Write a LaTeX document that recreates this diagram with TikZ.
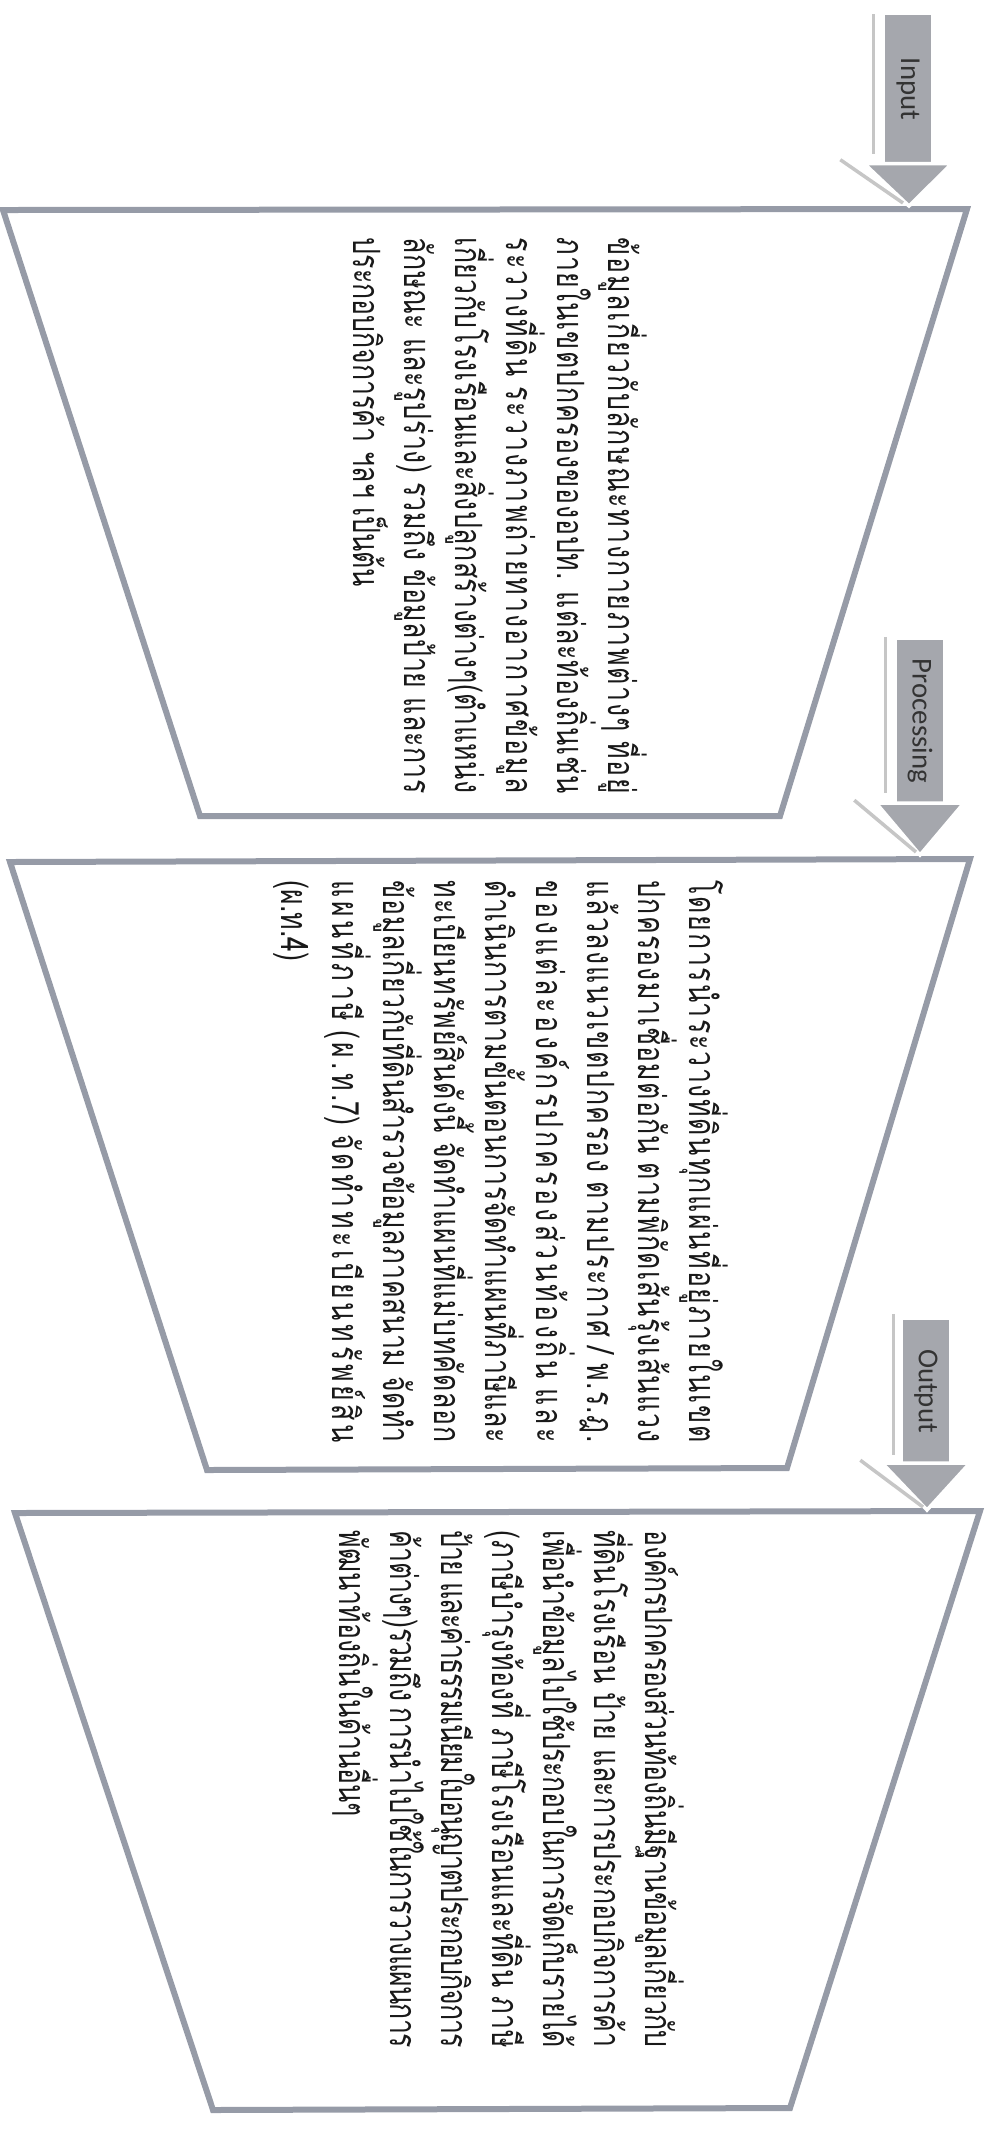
\documentclass[tikz,border=0pt]{standalone}
\usepackage{fontspec}
\setmainfont{Carlito}
\newfontfamily\thaifont[Script=Thai,FakeStretch=0.71]{Loma}
\usetikzlibrary{calc}
\definecolor{edgegray}{RGB}{150,155,167}
\definecolor{arrowgray}{RGB}{165,167,173}

% Thai letters may spread a little, so that full lines end flush
\XeTeXinterchartokenstate=1
\newXeTeXintercharclass\thaibase
\newXeTeXintercharclass\thaimark
\newcount\thaichar
\thaichar="0E01
\loop
  \XeTeXcharclass\thaichar=\thaibase
  \advance\thaichar by 1
\ifnum\thaichar<"0E5C \repeat
\XeTeXcharclass"0E31=\thaimark
\XeTeXcharclass"0E33=\thaimark
\thaichar="0E34
\loop
  \XeTeXcharclass\thaichar=\thaimark
  \advance\thaichar by 1
\ifnum\thaichar<"0E3B \repeat
\thaichar="0E47
\loop
  \XeTeXcharclass\thaichar=\thaimark
  \advance\thaichar by 1
\ifnum\thaichar<"0E4F \repeat
\XeTeXinterchartoks\thaibase\thaibase={\hskip 0pt plus 1fil minus 0.3pt\relax}
\XeTeXinterchartoks\thaimark\thaibase={\hskip 0pt plus 1fil minus 0.3pt\relax}
\XeTeXinterchartoks 0 \thaibase={\hskip 0pt plus 1fil\relax}
\XeTeXinterchartoks\thaibase 0 ={\hskip 0pt plus 1fil\relax}
\XeTeXinterchartoks\thaimark 0 ={\hskip 0pt plus 1fil\relax}

\newlength\colw
\newcommand\fullline[1]{\makebox[\colw][s]{#1}}

\begin{document}
\begin{tikzpicture}[
    frame/.style={draw=edgegray, line width=0.6mm, line join=miter},
    body/.style={rotate=-90, anchor=north west, align=left, inner sep=0pt, text=black!90,
                 font=\thaifont\fontsize{10.7}{14.5}\selectfont,
                 execute at begin node={\setlength{\colw}{#1}}},
    tag/.style={fill=arrowgray, rotate=-90, minimum height=4.6mm, inner sep=0pt,
                text=black!80, font=\fontsize{8.2}{10}\selectfont},
    head/.style={fill=arrowgray, draw=white, line width=0.35mm, line join=miter},
    glint/.style={draw=gray!45, line width=0.35mm}
]
\useasboundingbox (0,0) rectangle (9.89,-21.29);

% Stage frames
\draw[frame] (0.03,-2.10) -- (9.67,-2.09) -- (7.80,-8.16) -- (2.00,-8.16) -- cycle;
\draw[frame] (0.10,-8.62) -- (9.70,-8.59) -- (7.87,-14.68) -- (2.07,-14.70) -- cycle;
\draw[frame] (0.15,-15.13) -- (9.80,-15.11) -- (7.90,-21.08) -- (2.13,-21.10) -- cycle;

% Arrow tips on the frames
\coordinate (intip) at (9.09,-2.06);
\coordinate (proctip) at (9.20,-8.55);
\coordinate (outtip) at (9.27,-15.10);

% Input
\node[tag, minimum width=14.8mm] (inlbl) at (9.08,-0.89) {Input};
\draw[head] ($(inlbl.south east)+(-2mm,0)$) -- ($(inlbl.north east)+(2mm,0)$) -- (intip) -- cycle;
\draw[glint] ($(inlbl.south west)+(-1.1mm,0)$) -- ($(inlbl.south east)+(-1.1mm,1mm)$);
\draw[glint] ($(inlbl.south east)+(-4.4mm,0.4mm)$) -- ($(intip)+(-0.6mm,0.3mm)$);

% Processing
\node[tag, minimum width=16.3mm] (proclbl) at (9.20,-7.21) {Processing};
\draw[head] ($(proclbl.south east)+(-2mm,0)$) -- ($(proclbl.north east)+(2mm,0)$) -- (proctip) -- cycle;
\draw[glint] ($(proclbl.south west)+(-1.1mm,0.2mm)$) -- ($(proclbl.south east)+(-1.1mm,1mm)$);
\draw[glint] ($(proclbl.south east)+(-4.2mm,0.3mm)$) -- ($(proctip)+(-0.4mm,0.3mm)$);

% Output
\node[tag, minimum width=14.3mm] (outlbl) at (9.26,-13.91) {Output};
\draw[head] ($(outlbl.south east)+(-2mm,0)$) -- ($(outlbl.north east)+(2mm,0)$) -- (outtip) -- cycle;
\draw[glint] ($(outlbl.south west)+(-0.9mm,0.5mm)$) -- ($(outlbl.south east)+(-0.9mm,0.8mm)$);
\draw[glint] ($(outlbl.south east)+(-4.2mm,0.3mm)$) -- ($(outtip)+(-0.4mm,0.3mm)$);

% Stage texts
\node[body=5.56cm] (intext) at (6.48,-2.37) {\fullline{ข้อมูลเกี่ยวกับลักษณะทางกายภาพต่างๆ ที่อยู่}\\
\fullline{ภายในเขตปกครองของอปท. แต่ละท้องถิ่นเช่น}\\
\fullline{ระวางที่ดิน ระวางภาพถ่ายทางอากาศข้อมูล}\\
\fullline{เกี่ยวกับโรงเรือนและสิ่งปลูกสร้างต่างๆ(ตำแหน่ง}\\
\fullline{ลักษณะ และรูปร่าง) รวมถึง ข้อมูลป้าย และการ}\\
\mbox{ประกอบกิจการค้า ฯลฯ เป็นต้น}};

\node[body=5.62cm] (proctext) at (7.29,-8.80) {\fullline{โดยการนำระวางที่ดินทุกแผ่นที่อยู่ภายในเขต}\\
\fullline{ปกครองมาเชื่อมต่อกัน ตามพิกัดเส้นรุ้งเส้นแวง}\\
\fullline{แล้วลงแนวเขตปกครอง ตามประกาศ / พ.ร.ฎ.}\\
\fullline{ของแต่ละองค์กรปกครองส่วนท้องถิ่น และ}\\
\fullline{ดำเนินการตามขั้นตอนการจัดทำแผนที่ภาษีและ}\\
\fullline{ทะเบียนทรัพย์สินดังนี้ จัดทำแผนที่แม่บทคัดลอก}\\
\fullline{ข้อมูลเกี่ยวกับที่ดินสำรวจข้อมูลภาคสนาม จัดทำ}\\
\fullline{แผนที่ภาษี (ผ.ท.7) จัดทำทะเบียนทรัพย์สิน}\\
\mbox{(ผ.ท.4)}};

\node[body=5.17cm] (outtext) at (6.85,-15.30) {\fullline{องค์กรปกครองส่วนท้องถิ่นมีฐานข้อมูลเกี่ยวกับ}\\
\fullline{ที่ดินโรงเรือน ป้าย และการประกอบกิจการค้า}\\
\fullline{เพื่อนำข้อมูลไปใช้ประกอบในการจัดเก็บรายได้}\\
\fullline{(ภาษีบำรุงท้องที่ ภาษีโรงเรือนและที่ดิน ภาษี}\\
\fullline{ป้าย และค่าธรรมเนียมใบอนุญาตประกอบกิจการ}\\
\fullline{ค้าต่างๆ)รวมถึง การนำไปใช้ในการวางแผนการ}\\
\mbox{พัฒนาท้องถิ่นในด้านอื่นๆ}};
\end{tikzpicture}
\end{document}
